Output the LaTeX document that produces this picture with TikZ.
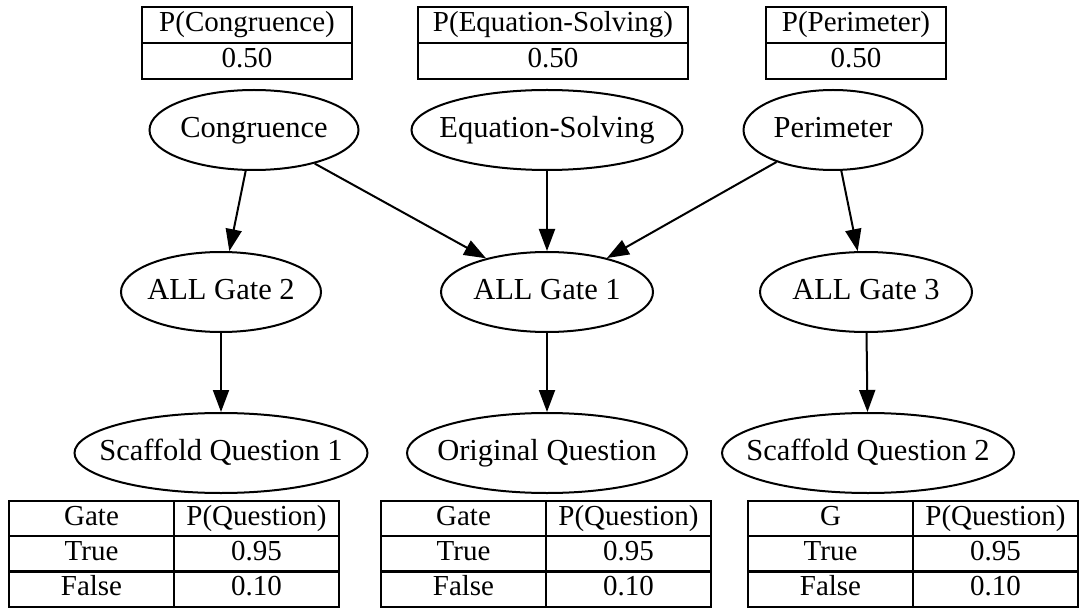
\documentclass[tikz,border=0pt]{standalone}
\usepackage{fontspec}
\setmainfont{Liberation Serif}
\usetikzlibrary{arrows.meta, positioning, shapes.geometric}

\begin{document}
\begin{tikzpicture}[
    x=1pt, y=-1pt,
    every node/.style={font=\fontsize{29}{34}\selectfont},
    bnode/.style={draw, ellipse, line width=2pt, inner sep=0pt,
                  font=\fontsize{30.5}{36}\selectfont,
                  minimum height=80pt, text height=21pt, text depth=6pt},
    cell/.style={draw, line width=2.4pt, inner sep=0pt, outer sep=0pt,
                 minimum height=36pt, text height=20pt, text depth=7pt},
    edge/.style={-{Triangle[length=22pt, width=16pt]}, line width=2pt},
  ]
  \useasboundingbox (0,0) rectangle (1083,609);

  % Prior tables
  \node[cell, minimum width=210pt] (tcong) at (247,25) {P(Congruence)};
  \node[cell, minimum width=210pt, below=0pt of tcong] (tcongv) {0.50};
  \node[cell, minimum width=270pt] (teqs) at (553,25) {P(Equation-Solving)};
  \node[cell, minimum width=270pt, below=0pt of teqs] (teqsv) {0.50};
  \node[cell, minimum width=180pt] (tperi) at (856,25) {P(Perimeter)};
  \node[cell, minimum width=180pt, below=0pt of tperi] (tperiv) {0.50};

  % Skill nodes
  \node[bnode, minimum width=209pt] (cong) at (254,130) {\makebox[0pt]{Congruence}};
  \node[bnode, minimum width=271pt] (eqs)  at (547,130) {\makebox[0pt]{Equation-Solving}};
  \node[bnode, minimum width=179pt] (peri) at (833,130) {\makebox[0pt]{Perimeter}};

  % Gates
  \node[bnode, minimum width=200pt] (gate2) at (221,292) {\makebox[0pt]{ALL Gate 2}};
  \node[bnode, minimum width=212pt] (gate1) at (547,292) {\makebox[0pt]{ALL Gate 1}};
  \node[bnode, minimum width=212pt] (gate3) at (866,292) {\makebox[0pt]{ALL Gate 3}};

  % Questions
  \node[bnode, minimum width=293pt] (sq1)   at (221,453) {\makebox[0pt]{Scaffold Question 1}};
  \node[bnode, minimum width=280pt] (origq) at (547,453) {\makebox[0pt]{Original Question}};
  \node[bnode, minimum width=292pt] (sq2)   at (868,453) {\makebox[0pt]{Scaffold Question 2}};

  % Arrows
  \draw[edge] (cong) -- (gate2);
  \draw[edge] (cong) -- (gate1);
  \draw[edge] (eqs)  -- (gate1);
  \draw[edge] (peri) -- (gate1);
  \draw[edge] (peri) -- (gate3);
  \draw[edge] (gate2) -- (sq1);
  \draw[edge] (gate1) -- (origq);
  \draw[edge] (gate3) -- (sq2);

  % Question tables
  \node[cell, minimum width=165pt, minimum height=35.3pt] (qa11) at (91.5,518.6) {Gate};
  \node[cell, minimum width=165pt, minimum height=35.3pt, right=0pt of qa11] (qa12) {P(Question)};
  \node[cell, minimum width=165pt, minimum height=35.3pt, below=0pt of qa11] (qa21) {True};
  \node[cell, minimum width=165pt, minimum height=35.3pt, below=0pt of qa12] (qa22) {0.95};
  \node[cell, minimum width=165pt, minimum height=35.3pt, below=0pt of qa21] (qa31) {False};
  \node[cell, minimum width=165pt, minimum height=35.3pt, below=0pt of qa22] (qa32) {0.10};

  \node[cell, minimum width=165pt, minimum height=35.3pt] (qb11) at (463.5,518.6) {Gate};
  \node[cell, minimum width=165pt, minimum height=35.3pt, right=0pt of qb11] (qb12) {P(Question)};
  \node[cell, minimum width=165pt, minimum height=35.3pt, below=0pt of qb11] (qb21) {True};
  \node[cell, minimum width=165pt, minimum height=35.3pt, below=0pt of qb12] (qb22) {0.95};
  \node[cell, minimum width=165pt, minimum height=35.3pt, below=0pt of qb21] (qb31) {False};
  \node[cell, minimum width=165pt, minimum height=35.3pt, below=0pt of qb22] (qb32) {0.10};

  \node[cell, minimum width=165pt, minimum height=35.3pt] (qc11) at (830.5,518.6) {G};
  \node[cell, minimum width=165pt, minimum height=35.3pt, right=0pt of qc11] (qc12) {P(Question)};
  \node[cell, minimum width=165pt, minimum height=35.3pt, below=0pt of qc11] (qc21) {True};
  \node[cell, minimum width=165pt, minimum height=35.3pt, below=0pt of qc12] (qc22) {0.95};
  \node[cell, minimum width=165pt, minimum height=35.3pt, below=0pt of qc21] (qc31) {False};
  \node[cell, minimum width=165pt, minimum height=35.3pt, below=0pt of qc22] (qc32) {0.10};
\end{tikzpicture}
\end{document}
